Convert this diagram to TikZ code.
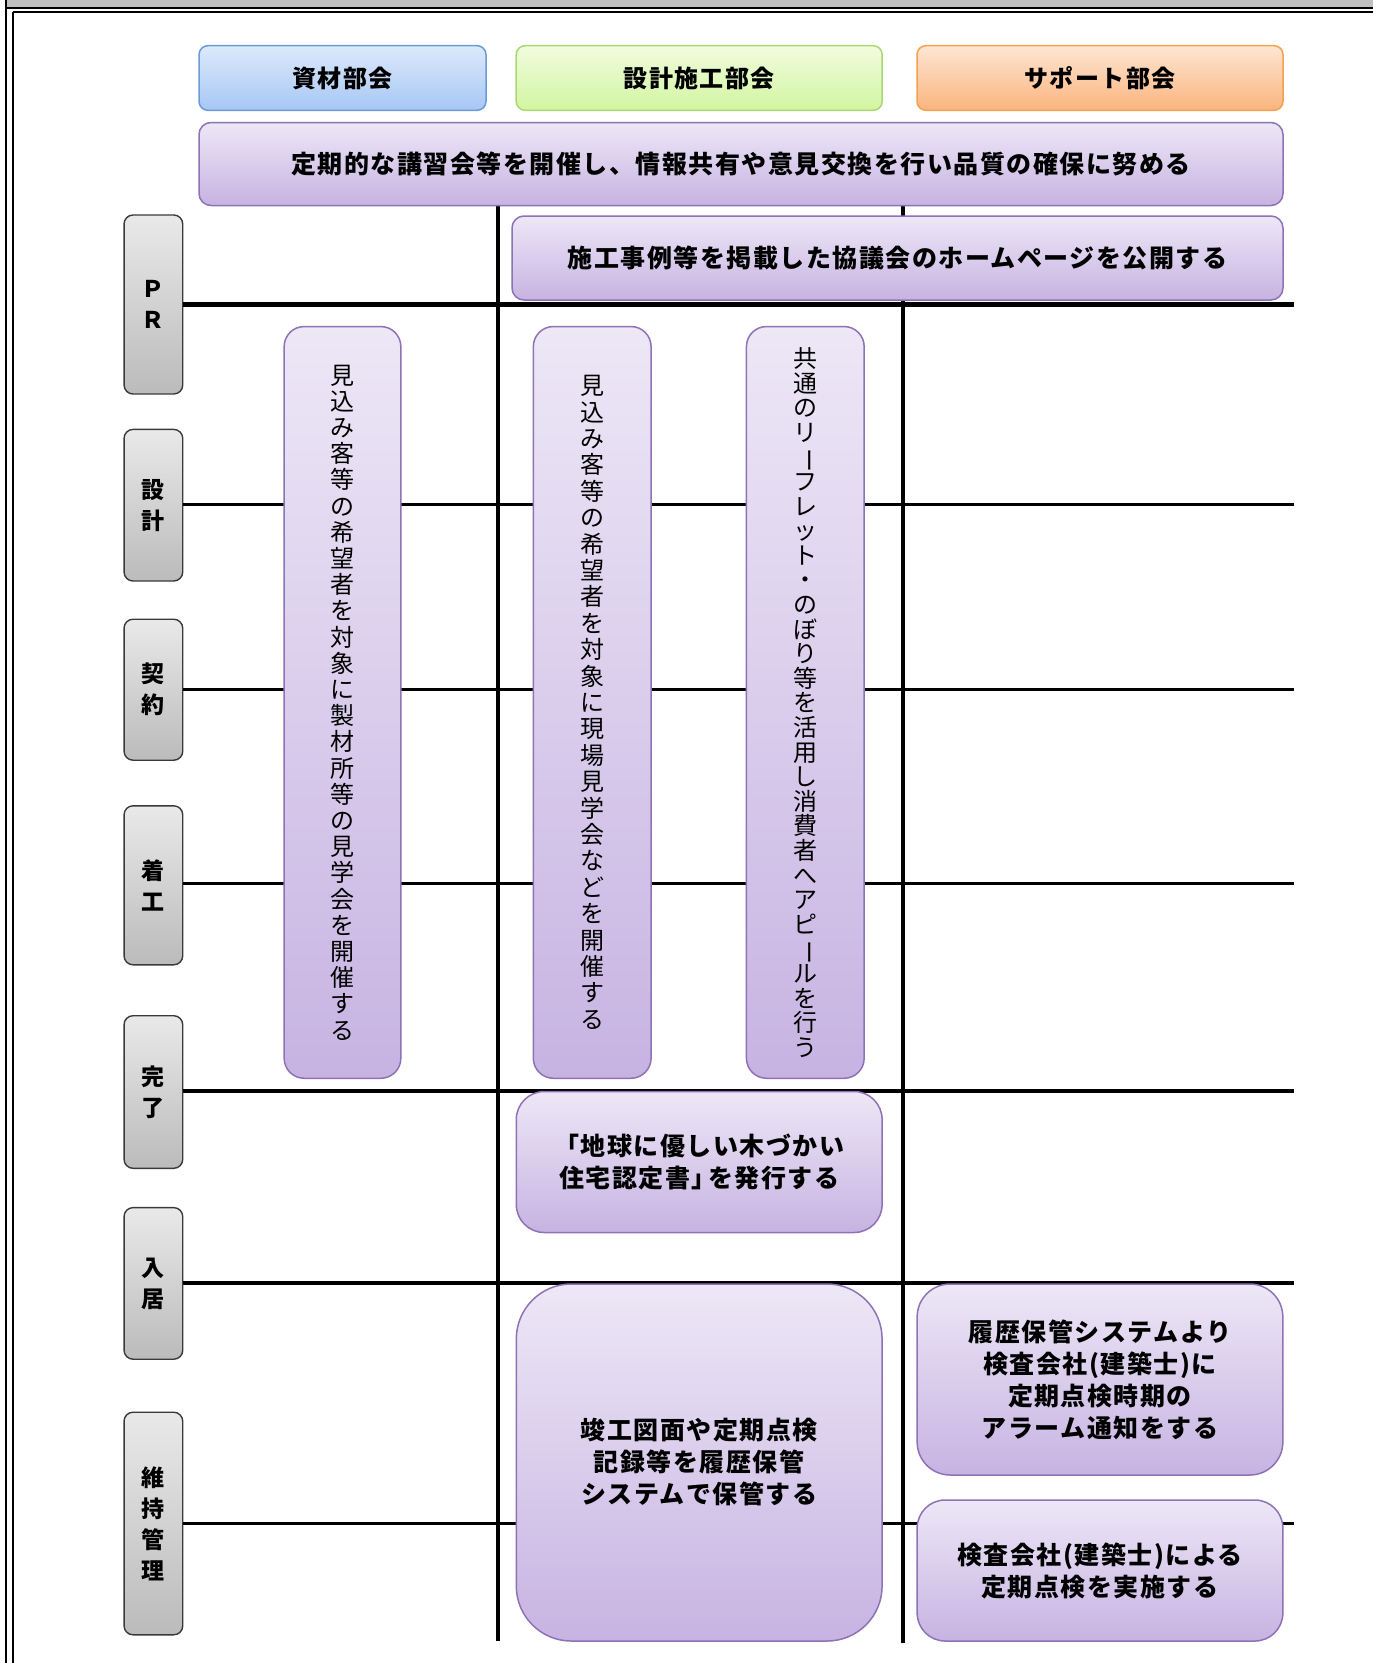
\documentclass[tikz,border=0pt]{standalone}
\usepackage{fontspec}
\usepackage{graphicx}
\setmainfont{Noto Sans CJK JP}[LetterSpace=6]
\newfontfamily\vfont{Noto Sans CJK JP}
\definecolor{blueT}{HTML}{DDE9FB}
\definecolor{blueB}{HTML}{A6C7F4}
\definecolor{blueD}{HTML}{6B9BD6}
\definecolor{greenT}{HTML}{F1FCDF}
\definecolor{greenB}{HTML}{D2F5A0}
\definecolor{greenD}{HTML}{A9D873}
\definecolor{orT}{HTML}{FDE6D4}
\definecolor{orB}{HTML}{FBB47C}
\definecolor{orD}{HTML}{F5A04E}
\definecolor{purT}{HTML}{EDE7F6}
\definecolor{purB}{HTML}{C7B3E2}
\definecolor{purD}{HTML}{8E72B6}
\definecolor{grT}{HTML}{E9E9E9}
\definecolor{grB}{HTML}{BBBBBB}
\definecolor{grD}{HTML}{3A3A3A}
\definecolor{band}{HTML}{C0C0C0}
\makeatletter
\def\vst@end{\vst@end@}
\newcommand\vstack[2]{\vbox{\baselineskip=#1\relax\lineskiplimit=-100pt\lineskip=0pt\relax\vst@loop#2\vst@end}}
\def\vst@loop#1{\ifx#1\vst@end\else\vst@char{#1}\expandafter\vst@loop\fi}
\def\vst@char#1{\ifx#1ー\hbox to 1em{\hss\rotatebox[origin=c]{-90}{ー}\hss}\else\hbox to 1em{\hss#1\hss}\fi}
\makeatother
\begin{document}
\begin{tikzpicture}[x=1pt,y=-1pt,
  hdr/.style={line width=1.5pt, rounded corners=9pt, inner sep=0pt, minimum height=64.7pt, font=\bfseries\fontsize{24}{30}\selectfont},
  pbox/.style={draw=purD, line width=1.5pt, top color=purT, bottom color=purB, inner sep=0pt, align=center, font=\bfseries\fontsize{25}{32}\selectfont},
  vbx/.style={pbox, rounded corners=20pt, minimum height=751.7pt, font=\vfont\fontsize{24}{26}\selectfont},
  lab/.style={draw=grD, line width=1.4pt, rounded corners=9pt, top color=grT, bottom color=grB, inner sep=0pt, minimum width=58.7pt, font=\vfont\bfseries\fontsize{23}{28}\selectfont},
  thickln/.style={line width=4.4pt},
  thinln/.style={line width=3.2pt},
  vln/.style={line width=4.2pt}]
\useasboundingbox (0,0) rectangle (1373,1663);
% frame
\fill[band] (6,0) rectangle (1373,8);
\draw[line width=2.2pt] (6,0) -- (6,1663);
\draw[line width=2pt] (6,8.3) -- (1373,8.3);
\draw[line width=1.8pt] (12.8,12) -- (12.8,1663);
\draw[line width=1.8pt] (12.8,12) -- (1373,12);
% row labels
\node[lab, minimum height=179pt] (lPR) at (153.4,304.5) {\vstack{31pt}{ＰＲ}};
\node[lab, minimum height=151.6pt] (lSK) at (153.4,505.2) {\vstack{31pt}{設計}};
\node[lab, minimum height=141pt] (lKY) at (153.4,689.7) {\vstack{31pt}{契約}};
\node[lab, minimum height=159pt] (lCK) at (153.4,885.3) {\vstack{31pt}{着工}};
\node[lab, minimum height=152.6pt] (lKR) at (153.4,1092) {\vstack{31pt}{完了}};
\node[lab, minimum height=151.6pt] (lNK) at (153.4,1283.4) {\vstack{31pt}{入居}};
\node[lab, minimum height=222.6pt] (lIJ) at (153.4,1523.5) {\vstack{31pt}{維持管理}};
% line end points
\coordinate (ePR) at (1293.5,304.3);
\coordinate (eSK) at (1293.5,504.7);
\coordinate (eKY) at (1293.5,689.1);
\coordinate (eCK) at (1293.5,883.1);
\coordinate (eKR) at (1293.5,1091);
\coordinate (eNK) at (1293.5,1282.8);
\coordinate (eIJ) at (1293.5,1523.5);
\coordinate (v1t) at (498.3,205);
\coordinate (v1b) at (498.3,1641);
\coordinate (v2t) at (903.3,205);
\coordinate (v2b) at (903.3,1643);
\draw[thickln] (lPR.east |- ePR) -- (ePR);
\draw[thinln] (lSK.east |- eSK) -- (eSK);
\draw[thinln] (lKY.east |- eKY) -- (eKY);
\draw[thinln] (lCK.east |- eCK) -- (eCK);
\draw[thickln] (lKR.east |- eKR) -- (eKR);
\draw[thickln] (lNK.east |- eNK) -- (eNK);
\draw[thinln] (lIJ.east |- eIJ) -- (eIJ);
\draw[vln] (v1t) -- (v1b);
\draw[vln] (v2t) -- (v2b);
% header boxes
\node[hdr, draw=blueD, top color=blueT, bottom color=blueB, minimum width=287pt] (h1) at (342.5,78) {資材部会};
\node[hdr, draw=greenD, top color=greenT, bottom color=greenB, minimum width=366pt] (h2) at (699.2,78) {設計施工部会};
\node[hdr, draw=orD, top color=orT, bottom color=orB, minimum width=366pt] (h3) at (1100,78) {サポート部会};
% bars
\node[pbox, rounded corners=12pt, minimum width=1084pt, minimum height=83pt] (b1) at (741,164) {定期的な講習会等を開催し、情報共有や意見交換を行い品質の確保に努める};
\node[pbox, rounded corners=12pt, minimum width=771pt, minimum height=84pt] (b2) at (897.5,258) {施工事例等を掲載した協議会のホームページを公開する};
% vertical boxes
\node[vbx, minimum width=116.7pt] (vA) at (342.5,702.4) {\vstack{26.2pt}{見込み客等の希望者を対象に製材所等の見学会を開催する}};
\node[vbx, minimum width=117.7pt] (vB) at (592.2,702.4) {\vstack{26.4pt}{見込み客等の希望者を対象に現場見学会などを開催する}};
\node[vbx, minimum width=117.7pt] (vC) at (805.3,702.4) {\vstack{24.6pt}{共通のリーフレット・のぼり等を活用し消費者へアピールを行う}};
% lower boxes
\node[pbox, rounded corners=28pt, minimum width=365.8pt, minimum height=141pt] (bD) at (699.2,1162) {「地球に優しい木づかい\\住宅認定書」\kern-0.35em を発行する};
\node[pbox, rounded corners=55pt, minimum width=365.8pt, minimum height=357pt] (bE) at (699.2,1462.5) {竣工図面や定期点検\\記録等を履歴保管\\システムで保管する};
\node[pbox, rounded corners=33pt, minimum width=365.7pt, minimum height=191pt] (bF) at (1100,1379.5) {履歴保管システムより\\検査会社(建築士)に\\定期点検時期の\\アラーム通知をする};
\node[pbox, rounded corners=28pt, minimum width=365.7pt, minimum height=141pt] (bG) at (1100,1570.5) {検査会社(建築士)による\\定期点検を実施する};
\end{tikzpicture}
\end{document}
